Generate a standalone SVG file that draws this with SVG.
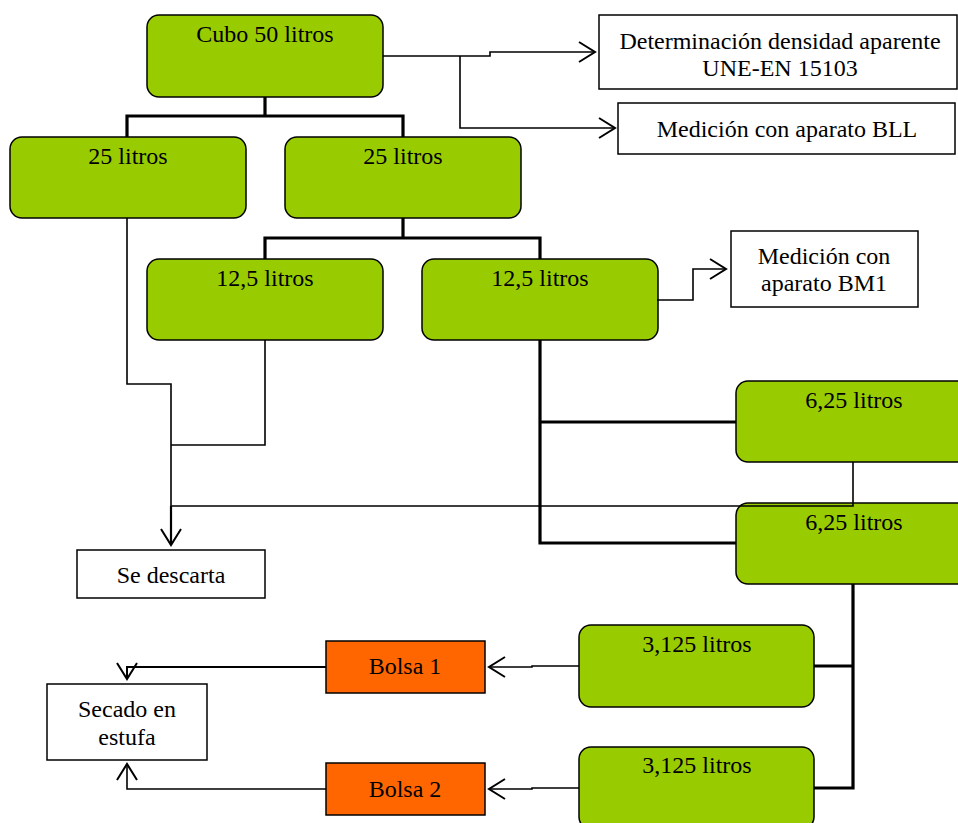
<svg xmlns="http://www.w3.org/2000/svg" width="958" height="823" viewBox="0 0 958 823">
<style>
  .g { fill: #99CC00; stroke: #000; stroke-width: 1.5; }
  .w { fill: #FFFFFF; stroke: #000; stroke-width: 1.5; }
  .o { fill: #FF6600; stroke: #000; stroke-width: 1.5; }
  text { font-family: "Liberation Serif", "Times New Roman", serif; font-size: 24px; fill: #000; text-anchor: middle; }
  .thick { fill: none; stroke: #000; stroke-width: 3.2; }
  .thin { fill: none; stroke: #000; stroke-width: 1.6; }
  .arr { fill: none; stroke: #000; stroke-width: 1.6; marker-end: url(#oa); }
</style>
<defs>
  <marker id="oa" markerUnits="userSpaceOnUse" markerWidth="24" markerHeight="26" refX="0" refY="0" viewBox="-20 -13 24 26" orient="auto" overflow="visible">
    <path d="M-16,-10 L0,0 L-16,10" fill="none" stroke="#000" stroke-width="2"/>
  </marker>
</defs>
<rect width="958" height="823" fill="#FFFFFF"/>

<g id="cubo"><rect class="g" x="147" y="15" width="236" height="82" rx="12"/><text x="265" y="42">Cubo 50 litros</text></g>
<g id="densidad"><rect class="w" x="599" y="15" width="358" height="74"/><text x="780" y="49">Determinación densidad aparente</text><text x="780" y="76">UNE-EN 15103</text></g>
<g id="bll"><rect class="w" x="618" y="103" width="337" height="51"/><text x="787" y="137">Medición con aparato BLL</text></g>
<g id="l25a"><rect class="g" x="10" y="137" width="236" height="81" rx="12"/><text x="128" y="164">25 litros</text></g>
<g id="l25b"><rect class="g" x="285" y="137" width="236" height="81" rx="12"/><text x="403" y="164">25 litros</text></g>
<g id="l125a"><rect class="g" x="147" y="259" width="236" height="81" rx="12"/><text x="265" y="286">12,5 litros</text></g>
<g id="l125b"><rect class="g" x="422" y="259" width="236" height="81" rx="12"/><text x="540" y="286">12,5 litros</text></g>
<g id="bm1"><rect class="w" x="731" y="231" width="187" height="76"/><text x="824" y="264">Medición con</text><text x="824" y="291">aparato BM1</text></g>
<g id="l625a"><rect class="g" x="736" y="381" width="236" height="81" rx="12"/><text x="854" y="408">6,25 litros</text></g>
<g id="l625b"><rect class="g" x="736" y="503" width="236" height="81" rx="12"/><text x="854" y="530">6,25 litros</text></g>
<g id="descarta"><rect class="w" x="77" y="550" width="188" height="48"/><text x="171" y="583">Se descarta</text></g>
<g id="l3125a"><rect class="g" x="579" y="625" width="235" height="82" rx="12"/><text x="697" y="652">3,125 litros</text></g>
<g id="l3125b"><rect class="g" x="579" y="747" width="235" height="82" rx="12"/><text x="697" y="773">3,125 litros</text></g>
<g id="bolsa1"><rect class="o" x="326" y="641" width="159" height="52"/><text x="405" y="674">Bolsa 1</text></g>
<g id="bolsa2"><rect class="o" x="326" y="763" width="159" height="52"/><text x="405" y="797">Bolsa 2</text></g>
<g id="secado"><rect class="w" x="47" y="684" width="160" height="76"/><text x="127" y="717">Secado en</text><text x="127" y="745">estufa</text></g>

<g id="connectors">
  <path class="thick" d="M127 137 V116 H403 V137 M265 97 V116"/>
  <path class="thick" d="M265 259 V238 H540 V259 M403 218 V238"/>
  <path class="thick" d="M540 340 V543 H736 M540 422 H736"/>
  <path class="thick" d="M853 584 V788 H814 M814 666 H853"/>
  <path class="arr" d="M383 56 H490 V52 H595"/>
  <path class="arr" d="M460 56 V128 H615"/>
  <path class="thin" d="M127 218 V384 H171 V506"/>
  <path class="arr" d="M171 506 V545" style="stroke-width:2.2"/>
  <path class="thin" d="M265 340 V445 H171"/>
  <path class="thin" d="M853 462 V506 H171"/>
  <path class="arr" d="M657 300 H693 V269 H726"/>
  <path class="arr" d="M579 666 H532 V667 H489"/>
  <path class="arr" d="M579 788 H532 V789 H489"/>
  <path class="arr" d="M326 667 H127 V679" style="stroke-width:2"/>
  <path class="arr" d="M326 789 H127 V764"/>
</g>
</svg>
